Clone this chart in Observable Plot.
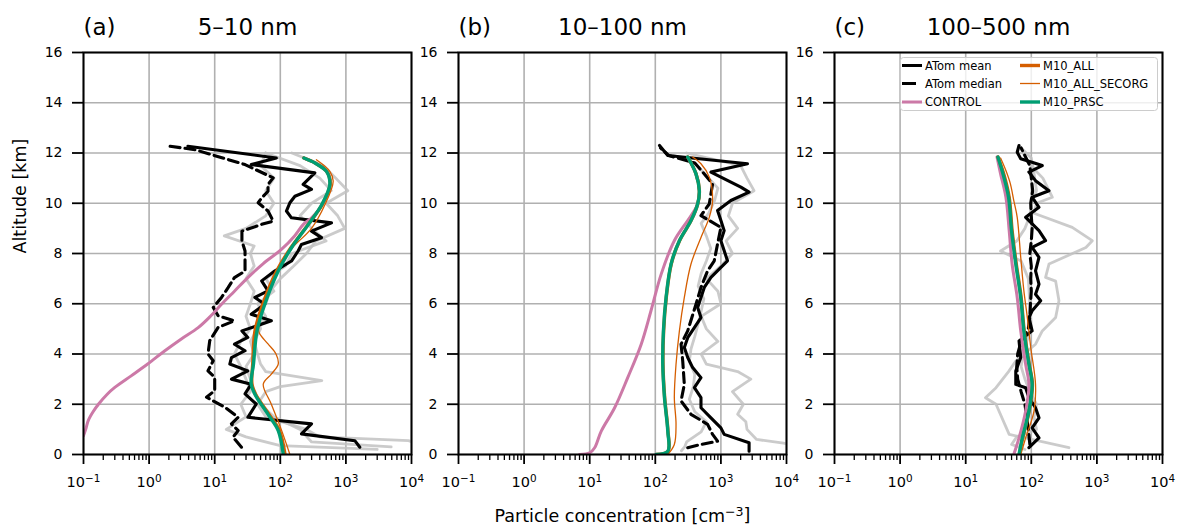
<!DOCTYPE html>
<html><head><meta charset="utf-8">
<script src="https://cdn.jsdelivr.net/npm/d3@7"></script>
<script src="https://cdn.jsdelivr.net/npm/@observablehq/plot@0.6"></script>
<style>
body{margin:0;background:white;}
#root{position:relative;width:1177px;height:525px;overflow:hidden;font-family:"DejaVu Sans",sans-serif;background:white;}
.panel{position:absolute;top:0;}
#legend{position:absolute;left:900px;top:57px;}
</style></head><body><div id="root"></div>
<script>
// ---------- tick values / labels ----------
const XTICKS = [0.1, 1, 10, 100, 1000, 10000];
const XTICK_BASE = "10";
const XTICK_EXPONENTS = ["−1", "0", "1", "2", "3", "4"];
const YTICKS = [0, 2, 4, 6, 8, 10, 12, 14, 16];
const PANEL_LETTERS = ["(a)", "(b)", "(c)"];
const PANEL_TITLES = ["5–10 nm", "10–100 nm", "100–500 nm"];
const SERIES_NAMES = ["ATom mean", "ATom median", "CONTROL", "M10_ALL", "M10_ALL_SECORG", "M10_PRSC"];
const X_LABEL = ["Particle concentration [cm", "−3", "]"];
const Y_LABEL = "Altitude [km]";

// ---------- data: [altitude km, concentration cm-3] ----------
// panel (a) 5-10 nm
const a_mean = [[0.29,1630],[0.55,1368],[0.82,210],[1.22,299],[1.48,32],[2.01,43],[2.41,29],[2.80,36],[3.0,18],[3.33,32],[3.60,17],[3.86,18],[4.13,29],[4.39,20],[4.66,32],[4.92,26],[5.32,73],[5.58,36],[5.98,58],[6.25,41],[6.51,65],[6.91,52],[7.30,82],[7.70,148],[8.10,187],[8.36,210],[8.63,425],[8.89,299],[9.22,603],[9.42,148],[9.69,124],[10.02,140],[10.28,167],[10.55,299],[10.75,223],[11.21,336],[11.54,36],[11.80,87],[12.27,3.9]];
const a_median = [[0.29,25.6],[0.69,19],[0.95,22.8],[1.22,18],[1.48,22.8],[1.88,14.3],[2.28,7.5],[2.54,10],[3.07,10],[3.33,7.9],[3.73,9.5],[4.0,7.9],[4.53,8.4],[5.06,11.3],[5.32,20],[5.52,11.3],[5.85,9.5],[6.25,12.7],[6.64,16],[7.04,20],[7.30,29],[7.57,29],[8.10,29],[8.50,26],[8.89,26],[9.16,52],[9.29,78],[9.69,65],[10.02,46],[10.21,52],[10.48,65],[10.75,65],[11.01,78],[11.54,29],[12.13,5.0],[12.27,2.07]];
const a_control = [[0.75,0.1],[1.0,0.108],[1.35,0.118],[1.7,0.14],[2.01,0.17],[2.4,0.23],[2.67,0.30],[3.14,0.54],[3.6,0.95],[4.13,1.74],[4.6,3.1],[5.05,5.6],[5.5,8.6],[5.98,12.7],[6.5,20],[7.04,32],[7.6,55],[8.17,105],[8.7,165],[9.16,225],[9.42,300],[9.95,440],[10.75,580],[11.27,510],[11.6,340],[11.8,229]];
const a_all = [[0,118],[0.95,97],[1.6,67],[2.4,42],[2.8,37],[3.6,38],[4.9,41],[5.98,54],[7.3,88],[8.23,145],[9.16,268],[9.95,435],[10.75,575],[11.27,510],[11.6,340],[11.8,229]];
const a_secorg = [[0,140],[0.95,105],[2.0,73],[2.8,55],[3.2,73],[3.6,93],[4.0,86],[4.4,65],[4.72,51],[4.9,47],[5.98,56],[7.3,90],[8.2,150],[9.0,299],[9.95,480],[10.88,640],[11.27,569],[11.73,355]];
const a_prsc = [[0,111],[0.95,93],[1.6,65],[2.4,41],[2.8,36],[3.6,39],[4.9,44],[5.98,58],[7.3,93],[8.23,148],[9.16,268],[9.95,430],[10.75,569],[11.27,505],[11.6,338],[11.8,229]];
const a_grey1 = [[0.4,14000],[0.55,9000],[0.7,400],[1.0,250],[1.5,60],[2.0,45],[2.5,60],[2.7,100],[2.94,430],[3.3,60],[3.6,50],[4.0,45],[4.5,40],[5.0,50],[5.5,45],[6.0,60],[6.5,70],[7.0,100],[7.5,160],[8.0,250],[8.5,350],[9.0,960],[9.5,750],[10.0,500],[10.5,1070],[11.0,700],[11.5,450],[12.0,150]];
const a_grey2 = [[0.2,3000],[0.35,100],[0.7,30],[1.0,15],[1.5,30],[2.0,25],[2.5,35],[3.0,30],[3.5,25],[4.0,20],[4.5,25],[5.0,35],[5.5,30],[6.0,35],[6.5,40],[7.0,30],[7.5,40],[8.0,35],[8.3,40],[8.7,14],[9.0,30],[9.5,60],[10.0,80],[10.5,60],[11.0,80],[11.5,50],[12.0,60]];
const a_grey3 = [[0.3,4900],[0.5,300],[1.0,200],[1.5,80],[2.0,50],[2.5,40],[3.0,35],[3.5,30],[4.0,40],[4.5,35],[5.0,45],[5.5,60],[6.0,45],[6.5,80],[7.0,60],[7.5,120],[8.0,150],[8.5,500],[9.0,300],[9.5,200],[10.0,300],[10.5,600],[11.0,400],[11.5,200],[12.0,60]];

// panel (b) 10-100 nm
const b_mean = [[0.13,2690],[0.47,2690],[0.8,1122],[1.06,1000],[1.46,705],[1.86,497],[2.26,497],[2.66,394],[3.06,497],[3.46,371],[3.86,312],[4.26,277],[4.65,312],[5.05,394],[5.45,497],[5.85,442],[6.25,497],[6.65,558],[7.05,705],[7.45,1000],[7.71,1260],[8.51,1000],[8.91,1122],[9.31,1000],[9.71,890],[10.11,1420],[10.44,2690],[10.64,2015],[11.24,705],[11.57,2540],[11.9,155],[12.3,116]];
const b_median = [[0.27,312],[0.40,497],[0.53,890],[0.80,747],[1.20,627],[1.60,350],[2.13,247],[2.79,277],[3.72,262],[4.39,247],[4.92,312],[5.98,417],[6.65,497],[7.31,627],[7.71,792],[8.38,890],[9.04,1000],[9.51,497],[9.97,665],[10.77,747],[11.24,527],[11.6,400],[11.9,160],[12.2,120]];
const b_control = [[0,7.0],[0.07,10],[0.27,11.9],[0.93,15],[1.86,24],[3.06,38],[4.39,61],[5.72,86],[7.18,123],[8.51,195],[9.31,312],[9.71,394],[9.97,442],[10.5,469],[11.17,417],[11.84,312]];
const b_all = [[0,104],[0.13,156],[0.93,156],[2.26,139],[3.59,131],[4.92,134],[6.25,147],[7.58,175],[8.51,234],[9.31,351],[9.97,443],[10.5,470],[11.17,418],[11.84,312]];
const b_secorg = [[0,155],[0.4,195],[1.2,207],[2.26,195],[3.59,207],[4.92,233],[6.25,277],[7.58,350],[8.64,497],[9.44,665],[10.11,747],[11.04,665],[11.57,497],[11.84,371]];
const b_prsc = [[0,103],[0.13,155],[0.93,155],[2.26,138],[3.59,130],[4.92,133],[6.25,146],[7.58,174],[8.51,233],[9.31,350],[9.97,442],[10.5,469],[11.17,417],[11.84,312]];
const b_grey1 = [[0.3,20000],[0.45,9000],[0.6,3500],[1.0,2500],[1.3,2400],[1.6,1800],[2.0,2200],[2.5,1500],[3.0,2860],[3.3,1800],[3.6,600],[4.0,500],[4.5,900],[5.0,600],[5.5,500],[6.0,1000],[6.5,900],[7.0,600],[7.5,1000],[8.0,1500],[8.5,1200],[9.0,1800],[9.5,1300],[10.0,1500],[10.5,3200],[11.0,2500],[11.5,2000],[12.0,300]];
const b_grey2 = [[0.15,250],[0.3,280],[0.5,300],[0.9,500],[1.3,600],[1.7,400],[2.2,330],[2.7,380],[3.2,400],[3.7,330],[4.2,350],[4.7,400],[5.2,450],[5.7,500],[6.2,550],[6.7,450],[7.2,500],[7.7,600],[8.2,700],[8.7,600],[9.2,500],[9.6,650],[10.1,800],[10.6,900],[11.1,600],[11.6,400],[12.0,150]];

// panel (c) 100-500 nm
const c_mean = [[0.27,92],[0.66,131],[1.06,103],[1.46,131],[1.86,116],[2.26,92],[2.66,82],[2.79,58],[3.32,58],[3.86,69],[4.52,65],[4.92,103],[5.45,92],[5.72,103],[6.12,139],[6.38,116],[6.78,131],[7.31,116],[7.85,131],[8.24,103],[8.51,165],[8.91,131],[9.44,82],[9.84,131],[10.24,103],[10.5,186],[10.9,116],[11.24,92],[11.5,147],[11.77,69],[12.03,61],[12.3,65]];
const c_median = [[0.4,95],[1,90],[1.5,85],[2,80],[2.5,70],[3,62],[3.5,60],[4,62],[4.5,70],[5,90],[5.5,95],[6,97],[6.5,100],[7,98],[7.5,100],[8,95],[8.5,100],[9,103],[9.5,100],[10,98],[10.5,105],[11,100],[11.5,95],[12.2,70]];
const c_control = [[0,54],[0.66,65],[1.73,82],[2.79,92],[3.59,82],[4.92,69],[6.25,61],[7.58,51],[8.91,46],[10.24,41],[11.17,34],[11.84,30]];
const c_all = [[0,66],[0.66,74],[1.73,93],[2.79,104],[3.59,93],[4.92,78],[6.25,70],[7.58,59],[8.91,51],[10.24,46],[11.17,38],[11.84,31]];
const c_secorg = [[0,69],[0.66,82],[1.73,110],[2.79,116],[4.26,98],[5.45,87],[6.52,77],[7.85,69],[9.44,61],[10.11,54],[10.77,48],[11.3,41],[11.8,34]];
const c_prsc = [[0,65],[0.66,73],[1.73,92],[2.79,103],[3.59,92],[4.92,77],[6.25,69],[7.58,58],[8.91,50],[10.24,45],[11.17,37],[11.84,31]];
const c_grey1 = [[0.27,375],[0.8,46],[2.0,29],[2.26,20],[2.66,29],[3.3,45],[3.72,58],[4.39,116],[4.92,147],[5.45,235],[6.12,264],[6.9,235],[7.05,165],[7.58,186],[8.24,680],[8.51,850],[9.04,421],[9.6,110],[10.0,120],[10.24,209],[11.0,150],[11.6,90],[12.0,75]];
const c_grey2 = [[0.2,80],[0.4,50],[0.7,60],[1.0,120],[1.5,110],[2.0,120],[2.5,95],[3.0,80],[3.5,70],[4.0,75],[4.5,85],[5.0,100],[6.0,95],[7.0,90],[7.7,70],[8.1,34],[8.5,60],[9.0,80],[9.5,95],[10.0,100],[10.5,120],[11.2,110],[11.8,100],[12.2,70]];

// ---------- styling ----------
const BLACK = "#000000", PINK = "#cc79a7", ORANGE = "#d55e00", GREEN = "#009e73", GREY = "#c2c2c2";
const FONT = "DejaVu Sans";

const MINOR = [];
for (const d of XTICKS.slice(0, -1)) for (let k = 2; k <= 9; k++) MINOR.push(d * k);

const PANELS = [
  {mean:a_mean, median:a_median, control:a_control, all:a_all, secorg:a_secorg, prsc:a_prsc, grey:[a_grey1,a_grey2,a_grey3],
   left:0, width:418, marginLeft:83, marginRight:7, ylabel:true, xlabel:false},
  {mean:b_mean, median:b_median, control:b_control, all:b_all, secorg:b_secorg, prsc:b_prsc, grey:[b_grey1,b_grey2],
   left:418, width:375, marginLeft:40, marginRight:7, ylabel:false, xlabel:true},
  {mean:c_mean, median:c_median, control:c_control, all:c_all, secorg:c_secorg, prsc:c_prsc, grey:[c_grey1,c_grey2],
   left:793, width:384, marginLeft:41, marginRight:15, ylabel:false, xlabel:false}
];

const X = d => d[1], Y = d => d[0];

function supText(textEl, base, exp, tail) {
  while (textEl.firstChild) textEl.removeChild(textEl.firstChild);
  textEl.appendChild(document.createTextNode(base));
  const t = document.createElementNS("http://www.w3.org/2000/svg", "tspan");
  t.setAttribute("dy", "-0.42em");
  t.setAttribute("font-size", "0.72em");
  t.textContent = exp;
  textEl.appendChild(t);
  if (tail) {
    const t2 = document.createElementNS("http://www.w3.org/2000/svg", "tspan");
    t2.setAttribute("dy", "0.30em");
    t2.textContent = tail;
    textEl.appendChild(t2);
  }
}

function makePanel(p, i) {
  const marks = [
    Plot.gridX(XTICKS, {stroke:"#b0b0b0", strokeOpacity:1, strokeWidth:1.6}),
    Plot.gridY(YTICKS, {stroke:"#b0b0b0", strokeOpacity:1, strokeWidth:1.6}),
  ];
  for (const g of p.grey) marks.push(Plot.line(g, {x:X, y:Y, stroke:GREY, strokeOpacity:0.85, strokeWidth:2.8, clip:true}));
  marks.push(
    Plot.line(p.mean, {x:X, y:Y, stroke:BLACK, strokeWidth:3.1, clip:true}),
    Plot.line(p.median, {x:X, y:Y, stroke:BLACK, strokeWidth:3.1, strokeDasharray:"10,5", clip:true}),
    Plot.line(p.control, {x:X, y:Y, stroke:PINK, strokeWidth:3, curve:"catmull-rom", clip:true}),
    Plot.line(p.all, {x:X, y:Y, stroke:ORANGE, strokeWidth:3.4, curve:"catmull-rom", clip:true}),
    Plot.line(p.secorg, {x:X, y:Y, stroke:ORANGE, strokeWidth:1.3, curve:"catmull-rom", clip:true}),
    Plot.line(p.prsc, {x:X, y:Y, stroke:GREEN, strokeWidth:3.4, curve:"catmull-rom", clip:true}),
    Plot.frame({stroke:BLACK, strokeWidth:2}),
    Plot.axisX(MINOR, {tickSize:6, tickFormat:() => "", strokeWidth:1.3, label:null}),
    Plot.axisX(XTICKS, {tickSize:10, tickPadding:12, strokeWidth:1.8, fontSize:14.5, label:null,
      tickFormat:d => XTICK_BASE + XTICK_EXPONENTS[XTICKS.indexOf(d)]}),
    Plot.axisY(YTICKS, {tickSize:11, tickPadding:10, strokeWidth:1.8, fontSize:14, label:null}),
    Plot.text([PANEL_LETTERS[i]], {frameAnchor:"top-left", textAnchor:"start", lineAnchor:"bottom", dy:-18, fontSize:23, text:d => d}),
    Plot.text([PANEL_TITLES[i]], {frameAnchor:"top", lineAnchor:"bottom", dy:-18, fontSize:23, text:d => d})
  );
  if (p.ylabel) marks.push(Plot.text([Y_LABEL], {frameAnchor:"left", rotate:-90, dx:-63, fontSize:17.5, text:d => d}));
  if (p.xlabel) marks.push(Plot.text([X_LABEL.join("")], {frameAnchor:"bottom", lineAnchor:"bottom", dy:67, fontSize:17.5, text:d => d}));

  const svg = Plot.plot({
    width: p.width, height: 525,
    marginTop: 52, marginBottom: 71, marginLeft: p.marginLeft, marginRight: p.marginRight,
    style: {fontFamily: FONT, fontSize: "14px", color: "black", background: "transparent", overflow: "visible"},
    x: {type: "log", domain: [0.1, 10000]},
    y: {domain: [0, 16]},
    marks
  });
  svg.classList.add("panel");
  svg.style.left = p.left + "px";
  // render exponents as raised superscripts
  svg.querySelectorAll("text").forEach(t => {
    const s = t.textContent;
    const k = XTICK_EXPONENTS.findIndex(e => s === XTICK_BASE + e);
    if (k >= 0 && t.closest('[aria-label="x-axis tick label"]')) supText(t, XTICK_BASE, XTICK_EXPONENTS[k]);
    else if (s === X_LABEL.join("")) supText(t, X_LABEL[0], X_LABEL[1], X_LABEL[2]);
  });
  return svg;
}

const root = document.getElementById("root");
PANELS.forEach((p, i) => root.appendChild(makePanel(p, i)));

// ---------- legend (inside panel c) ----------
const LEGEND_ITEMS = [
  {name: SERIES_NAMES[0], color: BLACK, width: 3, dash: null, col: 0, row: 0},
  {name: SERIES_NAMES[1], color: BLACK, width: 3, dash: "14,8", col: 0, row: 1},
  {name: SERIES_NAMES[2], color: PINK, width: 3, dash: null, col: 0, row: 2},
  {name: SERIES_NAMES[3], color: ORANGE, width: 3.4, dash: null, col: 1, row: 0},
  {name: SERIES_NAMES[4], color: ORANGE, width: 1.3, dash: null, col: 1, row: 1},
  {name: SERIES_NAMES[5], color: GREEN, width: 3.4, dash: null, col: 1, row: 2}
];
const ns = "http://www.w3.org/2000/svg";
const leg = document.createElementNS(ns, "svg");
leg.setAttribute("id", "legend");
leg.setAttribute("width", 258); leg.setAttribute("height", 54);
const box = document.createElementNS(ns, "rect");
Object.entries({x:0.5, y:0.5, width:257, height:53, rx:3, fill:"white", "fill-opacity":0.8, stroke:"#cccccc", "stroke-width":1}).forEach(([k,v]) => box.setAttribute(k, v));
leg.appendChild(box);
const colX = [2, 120], rowY = [8.5, 26.5, 45];
for (const it of LEGEND_ITEMS) {
  const x0 = colX[it.col], y0 = rowY[it.row];
  const ln = document.createElementNS(ns, "line");
  Object.entries({x1:x0, x2:x0 + 20, y1:y0, y2:y0, stroke:it.color, "stroke-width":it.width}).forEach(([k,v]) => ln.setAttribute(k, v));
  if (it.dash) ln.setAttribute("stroke-dasharray", it.dash);
  leg.appendChild(ln);
  const tx = document.createElementNS(ns, "text");
  Object.entries({x:x0 + 23, y:y0, "dominant-baseline":"central", "font-family":FONT, "font-size":11.5, fill:"black"}).forEach(([k,v]) => tx.setAttribute(k, v));
  tx.textContent = it.name;
  leg.appendChild(tx);
}
root.appendChild(leg);
</script></body></html>
